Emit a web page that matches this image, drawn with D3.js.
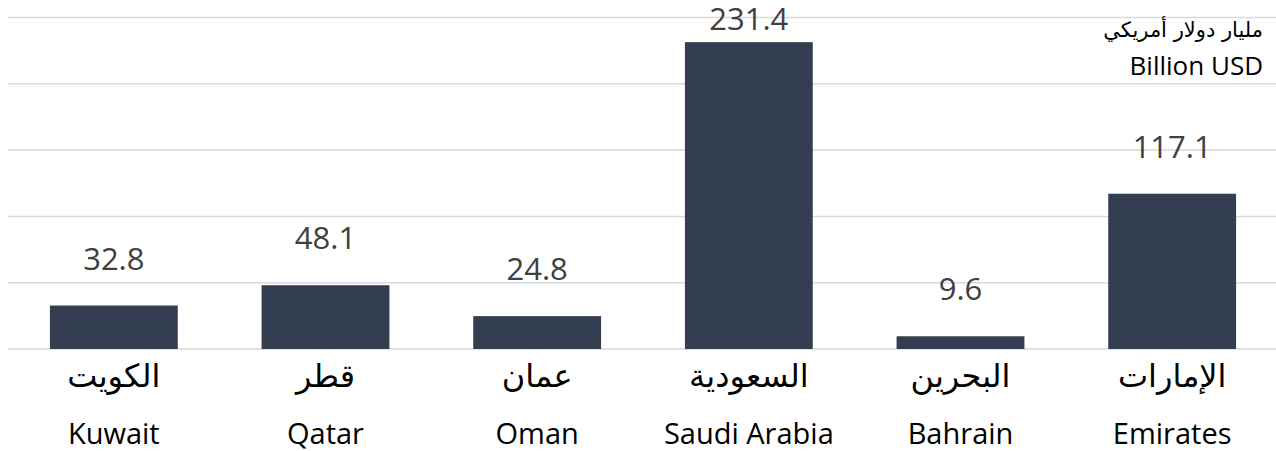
<!DOCTYPE html>
<html>
<head>
<meta charset="utf-8">
<script src="https://cdn.jsdelivr.net/npm/d3@7"></script>
<style>
  body { margin: 0; background: #fff; }
  svg { display: block; }
</style>
</head>
<body>
<svg id="chart" width="1276" height="451"></svg>
<script>
// data
var countriesAr = ["الكويت", "قطر", "عمان", "السعودية", "البحرين", "الإمارات"];
var countriesEn = ["Kuwait", "Qatar", "Oman", "Saudi Arabia", "Bahrain", "Emirates"];
var values = [32.8, 48.1, 24.8, 231.4, 9.6, 117.1];
var gridTicks = [0, 50, 100, 150, 200, 250];
var unitLines = ["مليار دولار أمريكي", "Billion USD"];

var svg = d3.select("#chart"),
    width = +svg.attr("width"),
    height = +svg.attr("height");

var x = d3.scaleBand()
    .domain(countriesEn)
    .range([8, 1278])
    .paddingInner(0.396)
    .paddingOuter(0.198);

var y = d3.scaleLinear()
    .domain([0, 250])
    .range([349, 17.5]);

// gridlines
svg.append("g")
  .selectAll("line")
  .data(gridTicks)
  .join("line")
    .attr("x1", 8)
    .attr("x2", width)
    .attr("y1", function(d){ return y(d); })
    .attr("y2", function(d){ return y(d); })
    .attr("stroke", "#d9d9d9")
    .attr("stroke-width", 1.5);

// bars
svg.append("g")
  .selectAll("rect")
  .data(values)
  .join("rect")
    .attr("x", function(d, i){ return x(countriesEn[i]); })
    .attr("y", function(d){ return y(d); })
    .attr("width", x.bandwidth())
    .attr("height", function(d){ return y(0) - y(d); })
    .attr("fill", "#333f50");

// value labels, pushed down when they would leave the top
svg.append("g")
  .selectAll("text")
  .data(values)
  .join("text")
    .attr("x", function(d, i){ return x(countriesEn[i]) + x.bandwidth() / 2; })
    .attr("y", function(d){ return Math.max(y(d) - 36, 30); })
    .attr("text-anchor", "middle")
    .attr("font-family", "Open Sans, sans-serif")
    .attr("font-size", 31)
    .attr("fill", "#404040")
    .text(function(d){ return d.toFixed(1); });

// category labels
var cats = svg.append("g");
cats.selectAll("text.ar")
  .data(countriesAr)
  .join("text")
    .attr("class", "ar")
    .attr("x", function(d, i){ return x(countriesEn[i]) + x.bandwidth() / 2; })
    .attr("y", 387)
    .attr("text-anchor", "middle")
    .attr("font-family", "DejaVu Sans, sans-serif")
    .attr("font-size", 32)
    .attr("fill", "#000")
    .text(function(d){ return d; });

cats.selectAll("text.en")
  .data(countriesEn)
  .join("text")
    .attr("class", "en")
    .attr("x", function(d){ return x(d) + x.bandwidth() / 2; })
    .attr("y", 444)
    .attr("text-anchor", "middle")
    .attr("font-family", "Open Sans, sans-serif")
    .attr("font-size", 29)
    .attr("fill", "#000")
    .text(function(d){ return d; });

// unit note
svg.append("g")
  .selectAll("text")
  .data(unitLines)
  .join("text")
    .attr("x", 1263)
    .attr("y", function(d, i){ return 37 + i * 38; })
    .attr("text-anchor", "end")
    .attr("font-family", function(d, i){ return i === 0 ? "DejaVu Sans, sans-serif" : "Open Sans, sans-serif"; })
    .attr("font-size", function(d, i){ return i === 0 ? 21 : 26; })
    .attr("fill", "#000")
    .text(function(d){ return d; });
</script>
</body>
</html>
